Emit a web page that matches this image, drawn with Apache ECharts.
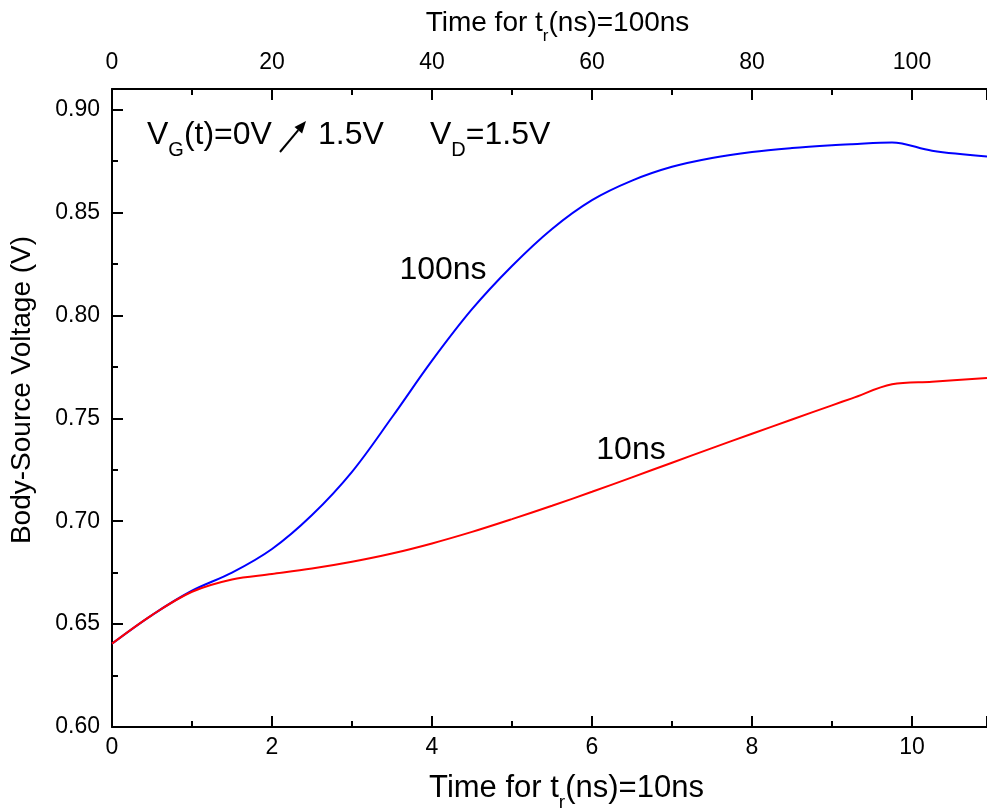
<!DOCTYPE html>
<html>
<head>
<meta charset="utf-8">
<script src="https://cdn.jsdelivr.net/npm/echarts@6/dist/echarts.min.js"></script>
<style>
html,body{margin:0;padding:0;background:#fff;}
#chart{width:987px;height:812px;}
</style>
</head>
<body>
<div id="chart"></div>
<script>
// Time axis (bottom, ns for tr = 10ns); top axis is the same time x10 for tr = 100ns
const timeX = [0, 0.5, 1, 1.5, 2, 2.5, 3, 3.5, 4, 4.5, 5, 5.5, 6, 6.5, 7, 7.5, 8, 8.5, 9, 9.25, 9.75, 10.25, 10.9375];
const v100ns = [0.6405, 0.6544, 0.6662, 0.6750, 0.6865, 0.7030, 0.7240, 0.7505, 0.7780, 0.8030, 0.8240, 0.8420, 0.8560, 0.8655, 0.8722, 0.8765, 0.8794, 0.8813, 0.8827, 0.8832, 0.8840, 0.8800, 0.8772];
const v10ns = [0.6405, 0.6544, 0.6657, 0.6717, 0.6743, 0.6770, 0.6803, 0.6843, 0.6892, 0.6948, 0.7010, 0.7075, 0.7143, 0.7213, 0.7284, 0.7355, 0.7425, 0.7494, 0.7563, 0.7597, 0.7665, 0.7678, 0.7696];
const seriesNames = ['100ns', '10ns'];
const bottomAxisTitle = ['Time for t', 'r', '(ns)=10ns'];
const topAxisTitle = ['Time for t', 'r', '(ns)=100ns'];
const yAxisTitle = 'Body-Source Voltage (V)';

const FONT = "'Liberation Sans', Arial, sans-serif";
const chart = echarts.init(document.getElementById('chart'), null, {renderer: 'canvas'});

function subRich(size, sub, pad) {
  return {
    a: {fontSize: size, fontFamily: FONT, color: '#000', padding: [0, 0, pad, 0], verticalAlign: 'bottom'},
    s: {fontSize: sub, fontFamily: FONT, color: '#000', verticalAlign: 'bottom'}
  };
}
const bigRich = subRich(32, 20, 9);

const axisCommon = {
  type: 'value',
  axisLine: {show: true, lineStyle: {color: '#000', width: 2}},
  axisTick: {show: true, inside: true, length: 11, lineStyle: {color: '#000', width: 2}},
  minorTick: {show: true, splitNumber: 2, length: 6, lineStyle: {color: '#000', width: 2}},
  splitLine: {show: false},
  axisLabel: {color: '#000', fontSize: 23, fontFamily: FONT, showMaxLabel: false}
};

const option = {
  backgroundColor: '#fff',
  animation: false,
  grid: {left: 112, right: 0, top: 89, bottom: 85, containLabel: false, outerBoundsMode: 'none'},
  xAxis: [
    Object.assign({}, axisCommon, {
      position: 'bottom', min: 0, max: 10.9375, interval: 2,
      axisLabel: Object.assign({}, axisCommon.axisLabel, {margin: 9}),
      name: '{a|' + bottomAxisTitle[0] + '}{s|' + bottomAxisTitle[1] + '}{a|' + bottomAxisTitle[2] + '}',
      nameLocation: 'middle', nameGap: 46,
      nameTextStyle: {rich: subRich(31, 19, 8), padding: [0, 0, 0, 34]}
    }),
    Object.assign({}, axisCommon, {
      position: 'top', min: 0, max: 109.375, interval: 20,
      axisLabel: Object.assign({}, axisCommon.axisLabel, {margin: 15}),
      name: '{a|' + topAxisTitle[0] + '}{s|' + topAxisTitle[1] + '}{a|' + topAxisTitle[2] + '}',
      nameLocation: 'middle', nameGap: 44,
      nameTextStyle: {rich: subRich(28, 17, 8), padding: [0, 0, 0, 16]}
    })
  ],
  yAxis: Object.assign({}, axisCommon, {
    min: 0.6, max: 0.91, interval: 0.05,
    axisLabel: Object.assign({}, axisCommon.axisLabel, {margin: 12, formatter: v => v.toFixed(2)}),
    name: yAxisTitle, nameLocation: 'middle', nameGap: 76,
    nameTextStyle: {fontSize: 28, fontFamily: FONT, color: '#000', padding: [0, 0, 0, 36]}
  }),
  series: [
    {
      name: seriesNames[0], type: 'line', xAxisIndex: 0, yAxisIndex: 0,
      data: timeX.map((x, i) => [x, v100ns[i]]),
      showSymbol: false, smooth: 0.35,
      lineStyle: {color: '#0000ff', width: 2}
    },
    {
      name: seriesNames[1], type: 'line', xAxisIndex: 0, yAxisIndex: 0,
      data: timeX.map((x, i) => [x, v10ns[i]]),
      showSymbol: false, smooth: 0.35,
      lineStyle: {color: '#ff0000', width: 2}
    }
  ],
  graphic: [
    {type: 'text', left: 147, top: 119, style: {text: '{a|V}{s|G}{a|(t)=0V}', rich: bigRich}},
    {type: 'line', shape: {x1: 280, y1: 152, x2: 298.3, y2: 130.2}, style: {stroke: '#000', lineWidth: 2}},
    {type: 'polygon', shape: {points: [[306, 121], [302.1, 133.4], [294.5, 127.0]]}, style: {fill: '#000'}},
    {type: 'text', left: 318, top: 119, style: {text: '{a|1.5V}', rich: bigRich}},
    {type: 'text', left: 430, top: 119, style: {text: '{a|V}{s|D}{a|=1.5V}', rich: bigRich}},
    {type: 'text', x: 443, y: 270, style: {text: seriesNames[0], font: '32px ' + FONT, fill: '#000', textAlign: 'center', textVerticalAlign: 'middle'}},
    {type: 'text', x: 631, y: 450, style: {text: seriesNames[1], font: '32px ' + FONT, fill: '#000', textAlign: 'center', textVerticalAlign: 'middle'}}
  ]
};
chart.setOption(option);
</script>
</body>
</html>
